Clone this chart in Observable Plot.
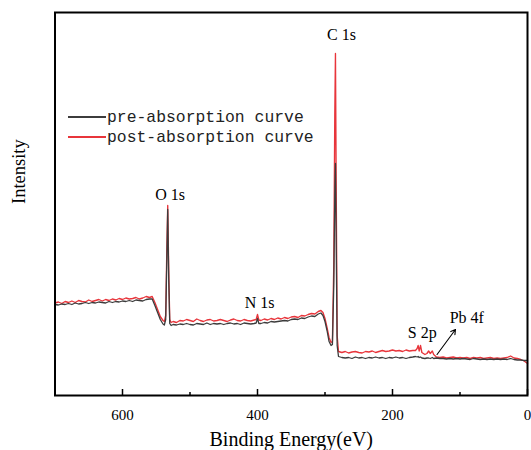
<!DOCTYPE html>
<html><head><meta charset="utf-8">
<script src="https://cdn.jsdelivr.net/npm/d3@7"></script>
<script src="https://cdn.jsdelivr.net/npm/@observablehq/plot@0.6"></script>
<style>
body{margin:0;background:#fff}
#wrap{position:relative;width:531px;height:450px}
.legend{position:absolute;left:68px;top:107px;font-family:"Liberation Mono",monospace;font-size:16.4px;color:#222}
.legend .row{display:flex;align-items:center;height:20px}
.legend .sw{width:38px;height:1.6px;margin-right:1px}
</style></head><body><div id="wrap"></div>
<script>
// Binding energy (eV), shared by both spectra
const energy = [
  700,695,690,685,680,675,670,665,660,655,650,645,640,635,630,625,620,615,610,605,600,595,590,585,580,575,570,565,560,
  556,552,548,544,540,538,536,534.5,533,531.5,530,528,
  525,520,515,510,505,500,495,490,485,480,475,470,465,460,455,450,445,440,435,430,425,420,415,410,405,
  402,400,398,
  395,390,385,380,375,370,365,360,355,350,345,340,335,330,325,320,315,310,
  306,303,300,297,294,291,289,287,285.5,284.5,283.5,282,280,
  275,270,265,260,255,250,245,240,235,230,225,220,215,210,205,200,195,190,185,180,175,170,
  166,163.5,162,160.5,158.5,156.5,152,149,
  146.5,144,141,139,135,130,
  125,120,115,110,105,100,95,90,85,80,75,70,65,60,55,50,45,40,35,30,25,20,15,10,5,0
];
// pre-absorption intensity (a.u.)
const preAbs = [
  91,90.5,91.5,91,92,91,92.5,91.5,92,93,92,93,92.5,93.5,93,92.5,94,93,94,93.5,94.5,94,95,94,95.5,95,94.5,96,96.5,
  96.5,90,83,76,71.5,70.5,76,130,186,115,72,70,
  71,70.5,71.5,71,72,71,70.5,72,71.5,71,72.5,71,72,71.5,72,71,72,72.5,71.5,72,71,72.5,72,71.5,72,
  72.5,77,72,
  72,73,72.5,74,73.5,74,74.5,75,74.5,76,76.5,76,77.5,77,78.5,79.5,79,81.5,
  82.5,80,74,65,54,50,51,110,200,232,160,50,39,
  38,37.5,38,37,38.5,37.5,38,37,38,37.5,38.5,37.5,38,37,38,37.5,38.5,37.5,38,37,38,38.5,
  39,38.5,39,38,38.5,37.5,37,37.5,
  37.5,37,38,37,37.5,37,
  37,36.5,37,36.5,37,36.5,37,36.5,36,37,36.5,36,36.5,36,36.5,36,36.5,36,36.5,36,37,36,35.5,35.5,35,35
];
// post-absorption intensity (a.u.)
const postAbs = [
  92.5,93.5,92,94,93,94.5,93,95,94,93.5,95.5,94,95,96,94.5,96,95,96.5,95.5,97,96,97.5,96.5,97,98,96.5,97.5,99,98,
  99,93,86,79,75,74,80,140,190,125,76,73,
  74,73,75,74.5,76,75,74,76.5,75,74,75.5,76,74.5,75,76,75,74,75.5,76.5,75,74.5,76,75,74.5,75.5,
  76,81,75.5,
  75,76.5,75.5,77,76,77.5,76.5,78,77,78.5,79,78,80,79.5,81,82,81.5,84,
  85,83,77,68,58,53,54,130,280,342,220,60,44,
  43,44,42.5,43.5,44,43,42.5,44,43.5,44.5,43,44,45,44,44.5,45.5,44.5,45,44,45.5,44.5,45,
  45,47,50,44.5,50,43,41,42,
  44.5,42,44.5,41,38.5,38,
  38.5,37.5,38,38.5,37.5,38,37.5,38,37,38,37.5,38,37,37.5,38,37,37.5,37,37.5,38,39.5,37.5,37,36,34.5,32
];
const seriesNames = ["pre-absorption curve", "post-absorption curve"];
const seriesColors = ["#3c3c3c", "#e8353b"];
const peakLabels = ["C 1s", "O 1s", "N 1s", "S 2p", "Pb 4f"];
const peakLabelEnergy = [275.6, 529.6, 397, 156, 90];
const peakLabelIntensity = [356, 196, 88, 58, 73];
const arrowEnergy = [134, 106.7];
const arrowIntensity = [41, 66];
const majorTicks = [600, 400, 200, 0];
const minorTicks = [500, 300, 100];
const xLabel = "Binding Energy(eV)";
const yLabel = "Intensity";

const preData = energy.map((e, i) => ({e, v: preAbs[i]}));
const postData = energy.map((e, i) => ({e, v: postAbs[i]}));
const labelData = peakLabels.map((t, i) => ({t, e: peakLabelEnergy[i], v: peakLabelIntensity[i]}));

const chart = Plot.plot({
  width: 531, height: 450,
  marginLeft: 54.5, marginRight: 4, marginTop: 12, marginBottom: 55,
  style: {fontFamily: '"Liberation Serif", "Times New Roman", serif', fontSize: "15px", color: "#000", background: "#fff"},
  x: {domain: [700, 0]},
  y: {domain: [0, 383], axis: null},
  marks: [
    Plot.line(postData, {x: "e", y: "v", stroke: seriesColors[1], strokeWidth: 1.35}),
    Plot.line(preData, {x: "e", y: "v", stroke: seriesColors[0], strokeWidth: 1.3}),
    Plot.text(labelData, {x: "e", y: "v", text: "t", lineAnchor: "bottom", fontSize: 16, fill: "#000"}),
    Plot.arrow([0], {x1: () => arrowEnergy[0], y1: () => arrowIntensity[0], x2: () => arrowEnergy[1], y2: () => arrowIntensity[1], stroke: "#000", strokeWidth: 1.1, headLength: 7}),
    Plot.frame({stroke: "#000", strokeWidth: 2}),
    Plot.axisX({ticks: majorTicks, tickSize: -6, tickPadding: 20, label: null, strokeWidth: 1.5, fontSize: 15}),
    Plot.axisX({ticks: minorTicks, tickSize: -3, tickFormat: () => "", label: null, strokeWidth: 1.5}),
    Plot.text([xLabel], {frameAnchor: "bottom", dy: 50, lineAnchor: "bottom", fontSize: 20}),
    Plot.text([yLabel], {frameAnchor: "left", rotate: -90, dx: -36, fontSize: 18.5, lineAnchor: "middle"})
  ]
});
const wrap = document.getElementById("wrap");
wrap.appendChild(chart);
const leg = document.createElement("div");
leg.className = "legend";
seriesNames.forEach((n, i) => {
  const row = document.createElement("div");
  row.className = "row";
  const sw = document.createElement("div");
  sw.className = "sw";
  sw.style.background = seriesColors[i];
  const tx = document.createElement("span");
  tx.textContent = n;
  row.appendChild(sw); row.appendChild(tx);
  leg.appendChild(row);
});
wrap.appendChild(leg);
</script></body></html>
